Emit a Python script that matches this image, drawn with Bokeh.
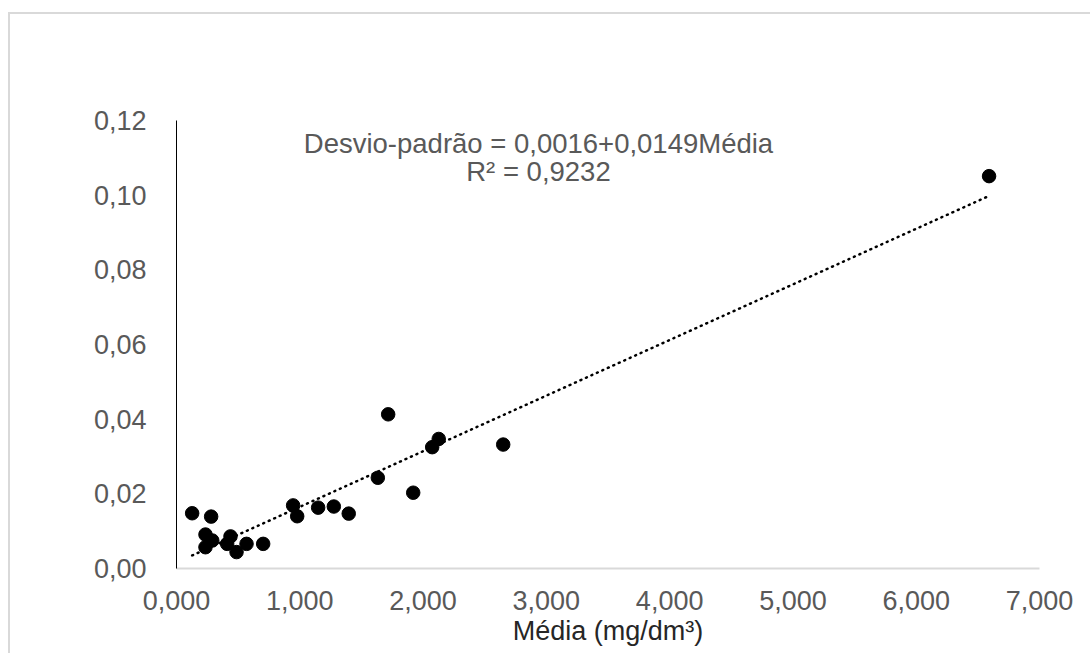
from bokeh.plotting import figure
from bokeh.models import Range1d, FixedTicker, CustomJSTickFormatter, Label, ColumnDataSource
from bokeh.embed import file_html
from bokeh.resources import INLINE

# Data (x = Média, y = Desvio-padrão)
media = [0.127, 0.281, 0.235, 0.290, 0.235, 0.438, 0.411, 0.487, 0.568, 0.703,
         0.946, 0.979, 1.149, 1.276, 1.397, 1.633, 1.717, 1.920, 2.074, 2.127,
         2.650, 6.591]
desvio = [0.0148, 0.0139, 0.0091, 0.0075, 0.0057, 0.0086, 0.0066, 0.0044, 0.0066, 0.0066,
          0.0169, 0.0140, 0.0163, 0.0166, 0.0147, 0.0243, 0.0413, 0.0203, 0.0325, 0.0347,
          0.0332, 0.1051]
x_ticks = [0, 1, 2, 3, 4, 5, 6, 7]
y_ticks = [0.0, 0.02, 0.04, 0.06, 0.08, 0.10, 0.12]
intercept = 0.0016
slope = 0.0149
eq_text = "Desvio-padrão = 0,0016+0,0149Média"
r2_text = "R² = 0,9232"

FONT = "Liberation Sans"
GRAY = "#595959"

p = figure(width=1082, height=641, output_backend="svg", toolbar_location=None,
           x_range=Range1d(0, 7), y_range=Range1d(0, 0.12),
           min_border_left=166, min_border_right=53, min_border_top=106, min_border_bottom=87)
p.margin = (12, 0, 0, 8)
p.styles = {"border-top": "2px solid #d9d9d9", "border-left": "2px solid #d9d9d9"}
p.outline_line_color = None
p.xgrid.visible = False
p.ygrid.visible = False

p.xaxis.ticker = FixedTicker(ticks=x_ticks)
p.yaxis.ticker = FixedTicker(ticks=y_ticks)
p.xaxis.formatter = CustomJSTickFormatter(code="return tick.toFixed(3).replace('.', ',');")
p.yaxis.formatter = CustomJSTickFormatter(code="return tick.toFixed(2).replace('.', ',');")
for ax in (p.xaxis, p.yaxis):
    ax.major_tick_line_color = None
    ax.minor_tick_line_color = None
    ax.major_label_text_font = FONT
    ax.major_label_text_font_size = "27px"
    ax.major_label_text_color = GRAY
p.yaxis.axis_line_color = "black"
p.yaxis.axis_line_width = 1
p.yaxis.major_label_standoff = 24
p.xaxis.axis_line_color = "#d9d9d9"
p.xaxis.axis_line_width = 2
p.xaxis.major_label_standoff = 16
p.xaxis.axis_label = "Média (mg/dm³)"
p.xaxis.axis_label_text_font = FONT
p.xaxis.axis_label_text_font_size = "27px"
p.xaxis.axis_label_text_font_style = "normal"
p.xaxis.axis_label_text_color = "#262626"
p.xaxis.axis_label_standoff = 3

# trendline
xmin, xmax = min(media), max(media)
trend = ColumnDataSource(dict(x=[xmin, xmax], y=[intercept + slope * xmin, intercept + slope * xmax]))
p.line("x", "y", source=trend, line_color="black", line_width=2.5, line_dash="1 5", line_cap="round")

pts = ColumnDataSource(dict(x=media, y=desvio))
p.scatter("x", "y", source=pts, size=13.5, fill_color="black", line_color="black")

p.add_layout(Label(x=2.936, y=0.1138, text=eq_text, text_align="center", text_baseline="middle",
                   text_font=FONT, text_font_size="27.5px", text_color=GRAY))
p.add_layout(Label(x=2.936, y=0.1063, text=r2_text, text_align="center", text_baseline="middle",
                   text_font=FONT, text_font_size="27.5px", text_color=GRAY))

open("out.html", "w").write(file_html(p, INLINE))
